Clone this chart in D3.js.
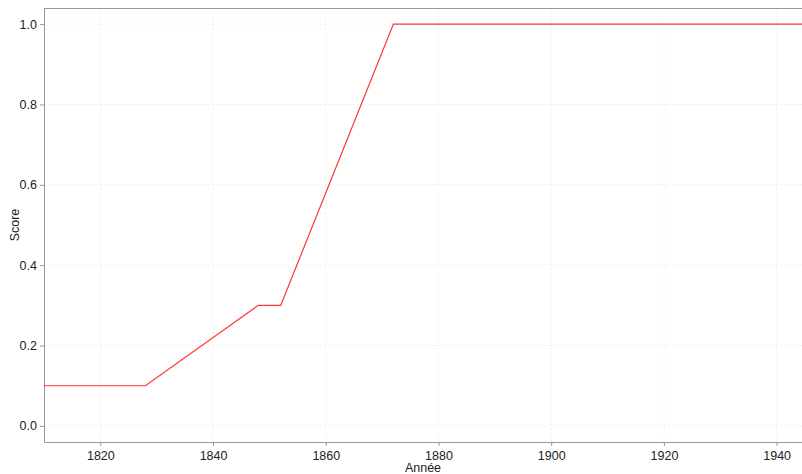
<!DOCTYPE html>
<html><head><meta charset="utf-8">
<script src="https://cdn.jsdelivr.net/npm/d3@7"></script>
<style>body{margin:0;background:#fff}svg{display:block}text{font-family:"Liberation Sans",Arial,sans-serif}</style>
</head><body><svg id="c" width="802" height="474"></svg>
<script>
const years = [1810, 1828, 1848, 1852, 1872, 1944.5];
const scores = [0.1, 0.1, 0.3, 0.3, 1.0, 1.0];
const xTicks = [1820, 1840, 1860, 1880, 1900, 1920, 1940];
const yTicks = [0.0, 0.2, 0.4, 0.6, 0.8, 1.0];

const W = 802, H = 474;
const m = {l: 44, r: 0, t: 8, b: 32};
const svg = d3.select("#c");
const x = d3.scaleLinear().domain([1810, 1944.5]).range([m.l, W - m.r]);
const y = d3.scaleLinear().domain([-0.04, 1.04]).range([H - m.b, m.t]);

// grid
svg.append("g").selectAll("line").data(xTicks).join("line")
  .attr("x1", d => x(d)).attr("x2", d => x(d)).attr("y1", m.t).attr("y2", H - m.b)
  .attr("stroke", "#efefef").attr("stroke-dasharray", "2,2").attr("stroke-width", 1);
svg.append("g").selectAll("line").data(yTicks).join("line")
  .attr("y1", d => y(d)).attr("y2", d => y(d)).attr("x1", m.l).attr("x2", W - m.r)
  .attr("stroke", "#efefef").attr("stroke-dasharray", "2,2").attr("stroke-width", 1);

// axes
const xa = svg.append("g").attr("transform", `translate(0,${H - m.b})`)
  .call(d3.axisBottom(x).tickValues(xTicks).tickFormat(d3.format("d")).tickSize(4).tickSizeOuter(0));
const ya = svg.append("g").attr("transform", `translate(${m.l},0)`)
  .call(d3.axisLeft(y).tickValues(yTicks).tickFormat(d3.format(".1f")).tickSize(4).tickSizeOuter(0));
[xa, ya].forEach(a => {
  a.select(".domain").attr("stroke", "#999");
  a.selectAll(".tick line").attr("stroke", "#999");
  a.selectAll(".tick text").attr("fill", "#222").attr("font-size", 12.5);
});
xa.selectAll(".tick text").attr("dy", "0.9em");
// top border
svg.append("line").attr("x1", m.l).attr("x2", W).attr("y1", m.t + 0.5).attr("y2", m.t + 0.5)
  .attr("stroke", "#999");

// line
const pts = years.map((d, i) => [d, scores[i]]);
svg.append("path").datum(pts)
  .attr("fill", "none").attr("stroke", "#ff3333").attr("stroke-width", 1.2)
  .attr("d", d3.line().x(d => x(d[0])).y(d => y(d[1])));

// titles
svg.append("text").attr("x", (m.l + W) / 2).attr("y", 472).attr("text-anchor", "middle")
  .attr("font-size", 12.5).attr("fill", "#222").text("Année");
svg.append("text").attr("transform", `translate(19,${(m.t + H - m.b) / 2}) rotate(-90)`)
  .attr("text-anchor", "middle").attr("font-size", 12.5).attr("fill", "#222").text("Score");
</script></body></html>
